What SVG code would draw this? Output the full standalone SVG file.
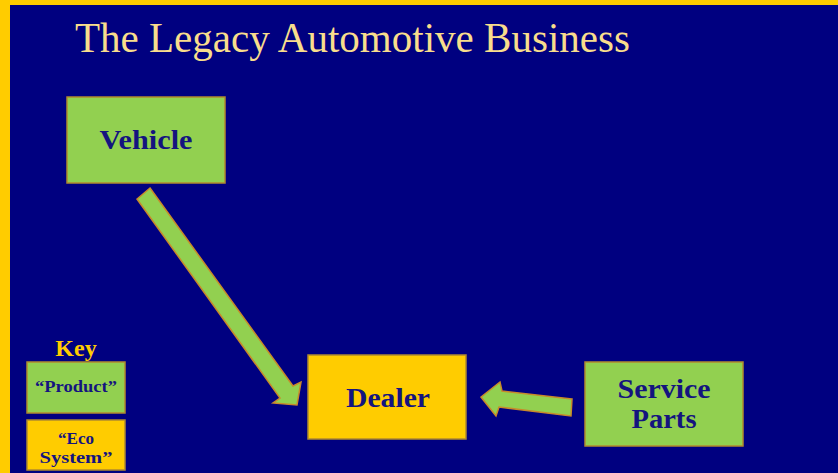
<svg xmlns="http://www.w3.org/2000/svg" width="838" height="473" viewBox="0 0 838 473">
  <defs>
    <style>
      .frame { fill: #FFCC00; }
      .bg { fill: #000080; }
      .product { fill: #92D050; stroke: #B08A2E; stroke-width: 1.5; }
      .eco { fill: #FFCC00; stroke: #B08A2E; stroke-width: 1.5; }
      .flow { fill: #92D050; stroke: #C8892A; stroke-width: 1.5; stroke-linejoin: miter; }
      .title { font-family: "Liberation Serif", "Times New Roman", serif; font-size: 42px; fill: #F8DD8C; }
      .label { font-family: "Liberation Serif", "Times New Roman", serif; font-weight: bold; fill: #14147F; text-anchor: middle; }
      .big { font-size: 28px; }
      .small { font-size: 17px; }
      .key { font-family: "Liberation Serif", "Times New Roman", serif; font-weight: bold; font-size: 24px; fill: #FFCC00; text-anchor: middle; }
    </style>
  </defs>

  <!-- slide frame -->
  <rect class="frame" x="0" y="0" width="838" height="473"/>
  <rect class="bg" x="10" y="5" width="828" height="468"/>

  <text class="title" x="75" y="52" textLength="555" lengthAdjust="spacingAndGlyphs">The Legacy Automotive Business</text>

  <!-- connectors -->
  <g id="connectors">
    <polygon class="flow" points="150,188 293,386 301,382 297,405 273,403 280,398 137,199"/>
    <polygon class="flow" points="572,399 502,391 500,382 481,397 496,416 499,407 571,416"/>
  </g>

  <g id="vehicle">
    <rect class="product" x="67" y="97" width="158" height="86"/>
    <text class="label big" x="146" y="149" textLength="93" lengthAdjust="spacingAndGlyphs">Vehicle</text>
  </g>

  <g id="dealer">
    <rect class="eco" x="308" y="355" width="158" height="84"/>
    <text class="label big" x="388" y="407" textLength="84" lengthAdjust="spacingAndGlyphs">Dealer</text>
  </g>

  <g id="service-parts">
    <rect class="product" x="585" y="362" width="158" height="84"/>
    <text class="label big" x="664" y="398" textLength="93" lengthAdjust="spacingAndGlyphs">Service</text>
    <text class="label big" x="664" y="428" textLength="65" lengthAdjust="spacingAndGlyphs">Parts</text>
  </g>

  <!-- legend -->
  <g id="key">
    <text class="key" x="76" y="356">Key</text>
    <g id="key-product">
      <rect class="product" x="27" y="362" width="98" height="51"/>
      <text class="label small" x="76" y="392" textLength="82" lengthAdjust="spacingAndGlyphs">“Product”</text>
    </g>
    <g id="key-eco">
      <rect class="eco" x="27" y="420" width="98" height="50"/>
      <text class="label small" x="76" y="444">“Eco</text>
      <text class="label small" x="76" y="463" textLength="73" lengthAdjust="spacingAndGlyphs">System”</text>
    </g>
  </g>
</svg>
